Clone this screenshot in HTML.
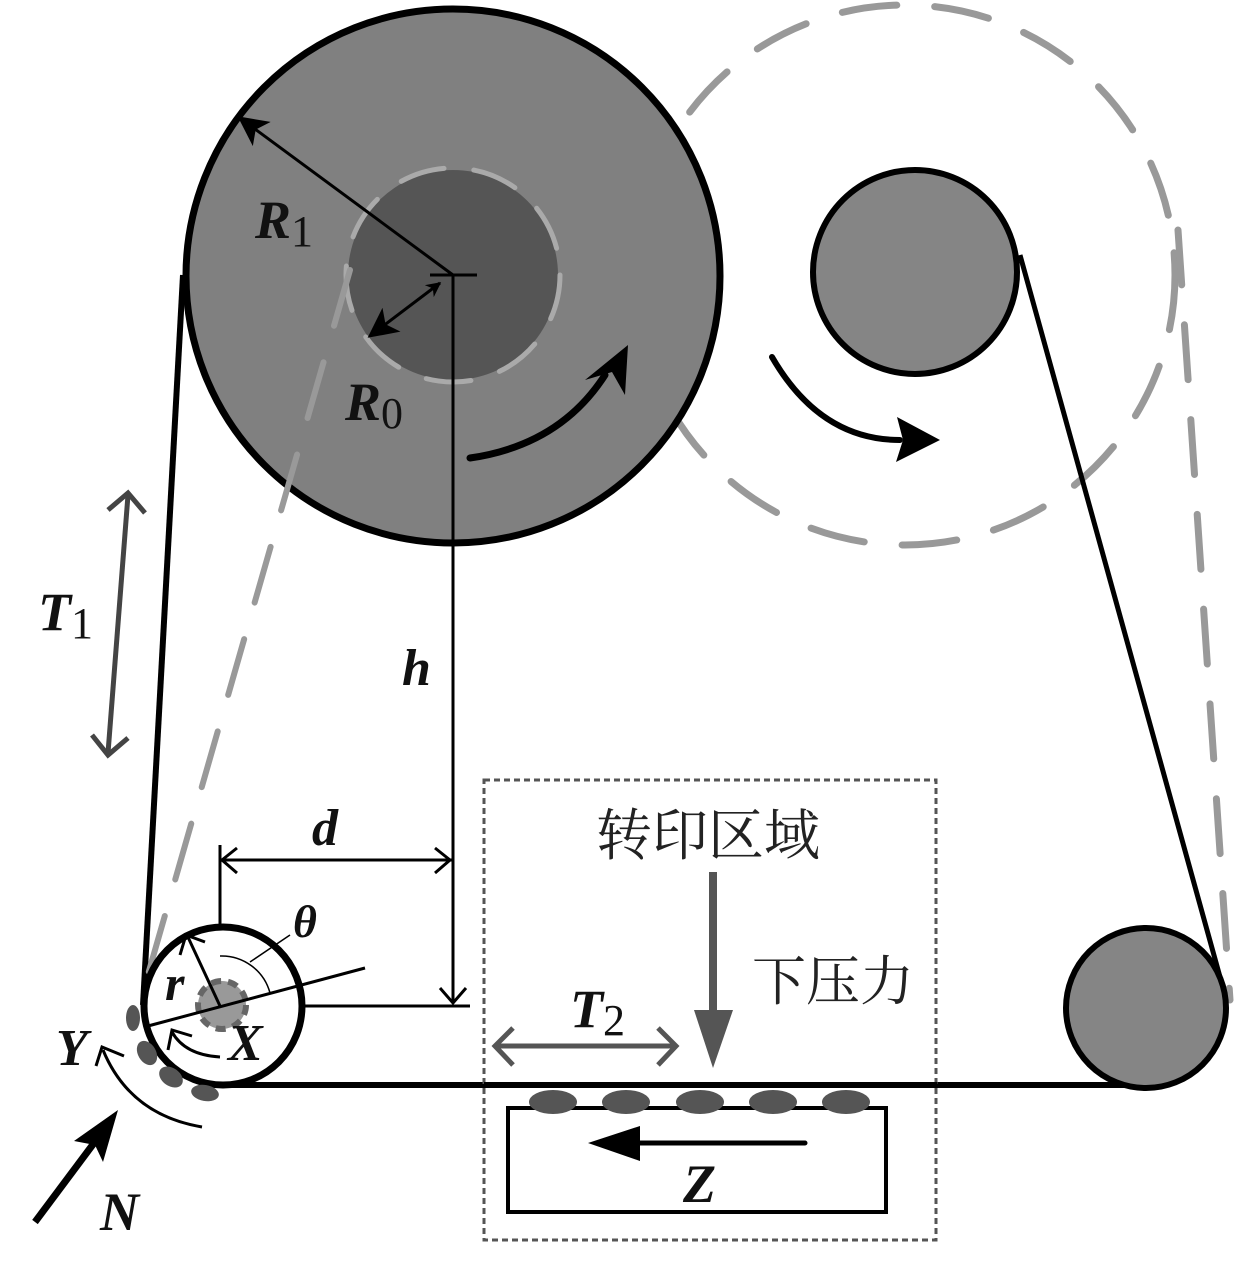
<!DOCTYPE html>
<html><head><meta charset="utf-8"><style>
html,body{margin:0;padding:0;background:#fff}
svg{display:block}
.l{font-family:"Liberation Serif","DejaVu Serif",serif;font-weight:bold;font-style:italic;fill:#111}
.s{font-family:"Liberation Serif",serif;font-style:normal;font-weight:normal}
.c{font-family:"Noto Serif CJK SC","Liberation Serif",serif;fill:#222}
</style></head><body>
<svg width="1235" height="1275" viewBox="0 0 1235 1275" xmlns="http://www.w3.org/2000/svg">
<defs>
<marker id="fa" viewBox="0 0 10 10" refX="9" refY="5" markerWidth="5" markerHeight="5" orient="auto-start-reverse" markerUnits="strokeWidth"><path d="M0,0L10,5L0,10L3,5z" fill="#000"/></marker>
<marker id="fb" viewBox="0 0 10 10" refX="9" refY="5" markerWidth="10" markerHeight="10" orient="auto-start-reverse" markerUnits="strokeWidth"><path d="M0,0L10,5L0,10L2.5,5z" fill="#000"/></marker>
</defs>
<circle cx="905" cy="275" r="270" fill="none" stroke="#999" stroke-width="7" stroke-dasharray="55,38" stroke-linecap="round"/>
<line x1="1178" y1="230" x2="1230" y2="1000" stroke="#999" stroke-width="7" stroke-dasharray="55,40" stroke-linecap="round"/>
<polyline points="183,275 143,1005" fill="none" stroke="#000" stroke-width="6"/>
<line x1="220" y1="1085" x2="1150" y2="1085" stroke="#000" stroke-width="6"/>
<line x1="1020" y1="255" x2="1225" y2="995" stroke="#000" stroke-width="5"/>
<circle cx="453" cy="276" r="267" fill="#808080" stroke="#000" stroke-width="7"/>
<circle cx="453" cy="275" r="105" fill="#555"/>
<circle cx="453" cy="275" r="107" fill="none" stroke="#aaa" stroke-width="5" stroke-dasharray="45,30" stroke-linecap="round"/>
<line x1="350" y1="270" x2="145" y2="985" stroke="#999" stroke-width="6" stroke-dasharray="58,38" stroke-linecap="round"/>
<circle cx="915" cy="272" r="102" fill="#858585" stroke="#000" stroke-width="6"/>
<circle cx="1146" cy="1008" r="80" fill="#858585" stroke="#000" stroke-width="6"/>
<line x1="453" y1="275" x2="240" y2="118" stroke="#000" stroke-width="3" marker-end="url(#fb)"/>
<line x1="440" y1="283" x2="370" y2="336" stroke="#000" stroke-width="3" marker-end="url(#fb)" marker-start="url(#fa)"/>
<line x1="430" y1="275" x2="477" y2="275" stroke="#000" stroke-width="3"/>
<line x1="453" y1="275" x2="453" y2="1003" stroke="#000" stroke-width="3"/>
<polyline points="440,988 453,1003 466,988" fill="none" stroke="#000" stroke-width="3"/>
<text class="l" x="255" y="238" font-size="54">R<tspan class="s" font-size="44" dy="8">1</tspan></text>
<text class="l" x="345" y="420" font-size="54">R<tspan class="s" font-size="44" dy="8">0</tspan></text>
<path d="M470,458 Q560,445 605,375" fill="none" stroke="#000" stroke-width="7" stroke-linecap="round"/>
<path d="M628,345 L625,395 L612,372 L585,380 Z" fill="#000"/>
<path d="M772,357 Q820,440 900,440" fill="none" stroke="#000" stroke-width="6" stroke-linecap="round"/>
<path d="M940,440 L897,417 L903,440 L896,462 Z" fill="#000"/>
<line x1="128" y1="495" x2="108" y2="753" stroke="#444" stroke-width="5"/>
<polyline points="108,510 128,493 145,513" fill="none" stroke="#444" stroke-width="5"/>
<polyline points="92,735 108,755 128,738" fill="none" stroke="#444" stroke-width="5"/>
<text class="l" x="38" y="630" font-size="54">T<tspan class="s" font-size="44" dy="8">1</tspan></text>
<text class="l" x="402" y="685" font-size="52">h</text>
<line x1="220" y1="845" x2="220" y2="1006" stroke="#000" stroke-width="3"/>
<line x1="220" y1="860" x2="452" y2="860" stroke="#000" stroke-width="3"/>
<polyline points="237,848 222,860 237,873" fill="none" stroke="#000" stroke-width="3"/>
<polyline points="435,848 450,860 435,873" fill="none" stroke="#000" stroke-width="3"/>
<text class="l" x="312" y="845" font-size="52">d</text>
<line x1="220" y1="1006" x2="470" y2="1006" stroke="#000" stroke-width="3"/>
<circle cx="223" cy="1006" r="79" fill="#fff" stroke="#000" stroke-width="7"/>
<circle cx="222" cy="1005" r="24" fill="#999" stroke="#666" stroke-width="6" stroke-dasharray="10,7"/>
<line x1="148" y1="1026" x2="365" y2="968" stroke="#000" stroke-width="3"/>
<line x1="220" y1="1006" x2="187" y2="935" stroke="#000" stroke-width="3"/>
<polyline points="180,955 186,935 205,942" fill="none" stroke="#000" stroke-width="3"/>
<path d="M220,956 A50,50 0 0 1 270,993" fill="none" stroke="#000" stroke-width="1.5"/>
<line x1="250" y1="962" x2="290" y2="935" stroke="#000" stroke-width="1.5"/>
<text class="l" x="293" y="937" font-size="46">θ</text>
<text class="l" x="165" y="1000" font-size="50">r</text>
<path d="M220,1057 Q185,1055 172,1032" fill="none" stroke="#000" stroke-width="3"/>
<polyline points="168,1050 172,1030 192,1036" fill="none" stroke="#000" stroke-width="3"/>
<text class="l" x="228" y="1060" font-size="52">X</text>
<g fill="#555">
<ellipse cx="133" cy="1018" rx="7" ry="13"/>
<ellipse cx="147" cy="1053" rx="9" ry="13" transform="rotate(-30 147 1053)"/>
<ellipse cx="171" cy="1077" rx="13" ry="9" transform="rotate(35 171 1077)"/>
<ellipse cx="205" cy="1093" rx="14" ry="8" transform="rotate(10 205 1093)"/>
</g>
<path d="M202,1127 Q130,1115 103,1050" fill="none" stroke="#000" stroke-width="3"/>
<polyline points="96,1066 102,1047 124,1056" fill="none" stroke="#000" stroke-width="3"/>
<text class="l" x="56" y="1065" font-size="52">Y</text>
<line x1="35" y1="1222" x2="100" y2="1135" stroke="#000" stroke-width="7"/>
<path d="M118,1110 L103,1162 L95,1145 L74,1141 Z" fill="#000"/>
<text class="l" x="100" y="1230" font-size="54">N</text>
<rect x="484" y="780" width="452" height="460" fill="none" stroke="#555" stroke-width="3" stroke-dasharray="6,4"/>
<line x1="484" y1="1085" x2="937" y2="1085" stroke="#000" stroke-width="6"/>
<text class="c" x="708" y="855" font-size="56" text-anchor="middle">转印区域</text>
<line x1="713" y1="872" x2="713" y2="1020" stroke="#555" stroke-width="8"/>
<path d="M694,1010 L733,1010 L713,1068 Z" fill="#555"/>
<text class="c" x="752" y="1000" font-size="54">下压力</text>
<line x1="495" y1="1046" x2="676" y2="1046" stroke="#555" stroke-width="5"/>
<polyline points="513,1028 495,1046 513,1065" fill="none" stroke="#555" stroke-width="5"/>
<polyline points="658,1028 676,1046 658,1065" fill="none" stroke="#555" stroke-width="5"/>
<text class="l" x="570" y="1027" font-size="54">T<tspan class="s" font-size="44" dy="8">2</tspan></text>
<rect x="508" y="1108" width="378" height="104" fill="#fff" stroke="#000" stroke-width="4"/>
<g fill="#555">
<ellipse cx="553" cy="1102" rx="24" ry="12"/>
<ellipse cx="626" cy="1102" rx="24" ry="12"/>
<ellipse cx="700" cy="1102" rx="24" ry="12"/>
<ellipse cx="773" cy="1102" rx="24" ry="12"/>
<ellipse cx="846" cy="1102" rx="24" ry="12"/>
</g>
<line x1="640" y1="1143" x2="805" y2="1143" stroke="#000" stroke-width="5" stroke-linecap="round"/>
<path d="M588,1143 L640,1126 L640,1161 Z" fill="#000"/>
<text class="l" x="683" y="1202" font-size="54">Z</text>
</svg>
</body></html>
